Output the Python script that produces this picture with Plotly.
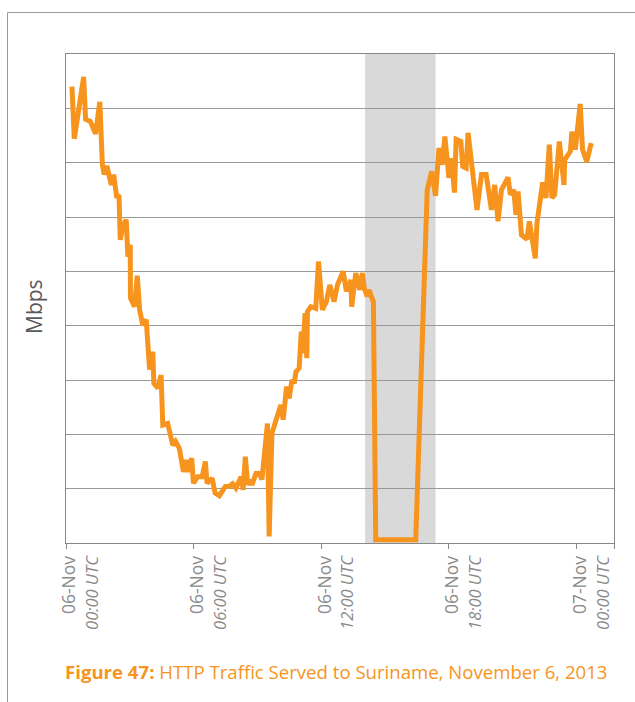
import plotly.graph_objects as go

# hours after 06-Nov 00:00 UTC, traffic in grid units (no scale on the axis)
hours = [0.28, 0.39, 0.83, 0.92, 1.14, 1.39, 1.59, 1.71, 1.80, 1.92,
         2.13, 2.24, 2.39, 2.49, 2.55, 2.67, 2.83, 2.91, 3.02, 3.03,
         3.22, 3.35, 3.46, 3.61, 3.77, 3.93, 4.08, 4.13, 4.32, 4.47,
         4.55, 4.78, 5.02, 5.15, 5.33, 5.52, 5.65, 5.72, 5.91, 5.99,
         6.19, 6.40, 6.55, 6.63, 6.87, 7.01, 7.21, 7.49, 7.68, 7.83,
         7.99, 8.11, 8.23, 8.33, 8.43, 8.54, 8.65, 8.74, 8.93, 9.09,
         9.21, 9.47, 9.55, 9.68, 9.90, 10.10, 10.21, 10.37, 10.49, 10.62,
         10.73, 10.81, 10.96, 11.06, 11.12, 11.24, 11.32, 11.35, 11.51, 11.74,
         11.87, 12.05, 12.24, 12.40, 12.60, 12.76, 13.03, 13.18, 13.39, 13.43,
         13.62, 13.81, 13.93, 14.02, 14.16, 14.24, 14.45, 14.56, 16.44, 16.98,
         17.19, 17.37, 17.53, 17.68, 17.81, 18.00, 18.12, 18.26, 18.34, 18.56,
         18.65, 18.81, 18.90, 19.32, 19.53, 19.75, 20.00, 20.15, 20.31, 20.47,
         20.78, 20.89, 21.05, 21.15, 21.25, 21.41, 21.67, 21.78, 22.06, 22.14,
         22.41, 22.56, 22.72, 22.84, 22.97, 23.19, 23.41, 23.44, 23.71, 23.78,
         23.94, 24.17, 24.28, 24.48, 24.69]
mbps = [8.40, 7.44, 8.58, 7.80, 7.76, 7.53, 8.12, 6.96, 6.78, 6.94,
        6.59, 6.78, 6.35, 6.41, 5.58, 5.83, 5.95, 5.27, 5.49, 4.51,
        4.35, 4.92, 4.29, 4.01, 4.11, 3.19, 3.52, 2.94, 2.85, 3.09,
        2.17, 2.20, 1.80, 1.87, 1.74, 1.31, 1.53, 1.31, 1.56, 1.10,
        1.22, 1.22, 1.50, 1.10, 1.19, 0.92, 0.87, 1.04, 1.04, 1.09,
        1.01, 1.10, 1.22, 0.98, 1.59, 1.07, 1.16, 1.07, 1.28, 1.28,
        1.17, 2.20, 0.12, 2.02, 2.27, 2.54, 2.27, 2.88, 2.66, 3.00,
        2.94, 3.15, 3.22, 3.89, 3.49, 4.23, 3.40, 4.26, 4.35, 4.32,
        5.18, 4.29, 4.44, 4.75, 4.44, 4.75, 5.00, 4.63, 4.84, 4.35,
        4.97, 4.66, 4.97, 4.69, 4.54, 4.66, 4.44, 0.06, 0.06, 6.50,
        6.84, 6.39, 7.27, 6.96, 7.48, 6.72, 7.08, 6.45, 7.43, 7.39,
        6.93, 6.90, 7.55, 6.13, 6.78, 6.78, 6.13, 6.59, 5.92, 6.50,
        6.73, 6.41, 6.50, 6.04, 6.47, 5.67, 5.59, 5.92, 5.24, 5.89,
        6.64, 6.35, 7.33, 6.35, 6.41, 7.39, 6.59, 7.05, 7.21, 7.57,
        7.24, 8.08, 7.24, 7.02, 7.36]

outage = [14.06, 17.37]
tick_hours = [0, 6, 12, 18, 24]
tick_days = ["06-Nov", "06-Nov", "06-Nov", "06-Nov", "07-Nov"]
tick_times = ["00:00 UTC", "06:00 UTC", "12:00 UTC", "18:00 UTC", "00:00 UTC"]
x_max = 25.76

ORANGE = "#F7941D"
GREY = "#8a8a8a"

W, H = 635, 702
L, R, T, B = 66, 21, 54, 159
pw, ph = W - L - R, H - T - B


def px_x(p):
    return (p - L) / pw


def px_y(p):
    return (H - B - p) / ph


ticktext = [f"{d}<br><i><span style='font-size:16.5px'>{t}</span></i>"
            for d, t in zip(tick_days, tick_times)]

fig = go.Figure()
fig.add_trace(go.Scatter(x=hours, y=mbps, mode="lines",
                         line=dict(color=ORANGE, width=5), hoverinfo="skip"))

fig.add_vrect(x0=outage[0], x1=outage[1], fillcolor="#d9d9d9",
              line_width=0, layer="below")

# outer frame of the figure box
fig.add_shape(type="line", xref="paper", yref="paper",
              x0=px_x(7.5), x1=px_x(640), y0=px_y(12.5), y1=px_y(12.5),
              line=dict(color="#9a9a9a", width=1))
fig.add_shape(type="line", xref="paper", yref="paper",
              x0=px_x(7.5), x1=px_x(7.5), y0=px_y(12.5), y1=px_y(710),
              line=dict(color="#9a9a9a", width=1))

# y axis title, sits a bit below the middle of the axis
fig.add_annotation(xref="paper", yref="paper", x=px_x(34), y=px_y(307),
                   xanchor="center", yanchor="middle", showarrow=False,
                   textangle=-90, text="Mbps",
                   font=dict(family="Open Sans", size=21, color="#595959"))

fig.add_annotation(xref="paper", yref="paper", x=px_x(63), y=px_y(671),
                   xanchor="left", yanchor="middle", showarrow=False,
                   text="<b>Figure 47:</b> HTTP Traffic Served to Suriname, November 6, 2013",
                   font=dict(family="Open Sans", size=18.6, color=ORANGE))

fig.update_xaxes(range=[0, x_max], tickvals=tick_hours + [x_max],
                 ticktext=ticktext + [""], tickangle=-90, ticklabelshift=15,
                 ticks="outside", ticklen=5, tickcolor="#888",
                 showgrid=False, zeroline=False,
                 showline=True, linecolor="#888", linewidth=1, mirror=True,
                 tickfont=dict(family="Open Sans", size=17.5, color=GREY))
fig.update_yaxes(range=[0, 9], dtick=1, showticklabels=False,
                 showgrid=True, gridcolor="#999", gridwidth=1,
                 zeroline=False, showline=True, linecolor="#888",
                 linewidth=1, mirror=True)

fig.update_layout(width=W, height=H, showlegend=False,
                  margin=dict(l=L, r=R, t=T, b=B),
                  paper_bgcolor="white", plot_bgcolor="white")

fig.write_html("out.html", config={"displayModeBar": False},
               post_script="document.body.style.margin='0';")
